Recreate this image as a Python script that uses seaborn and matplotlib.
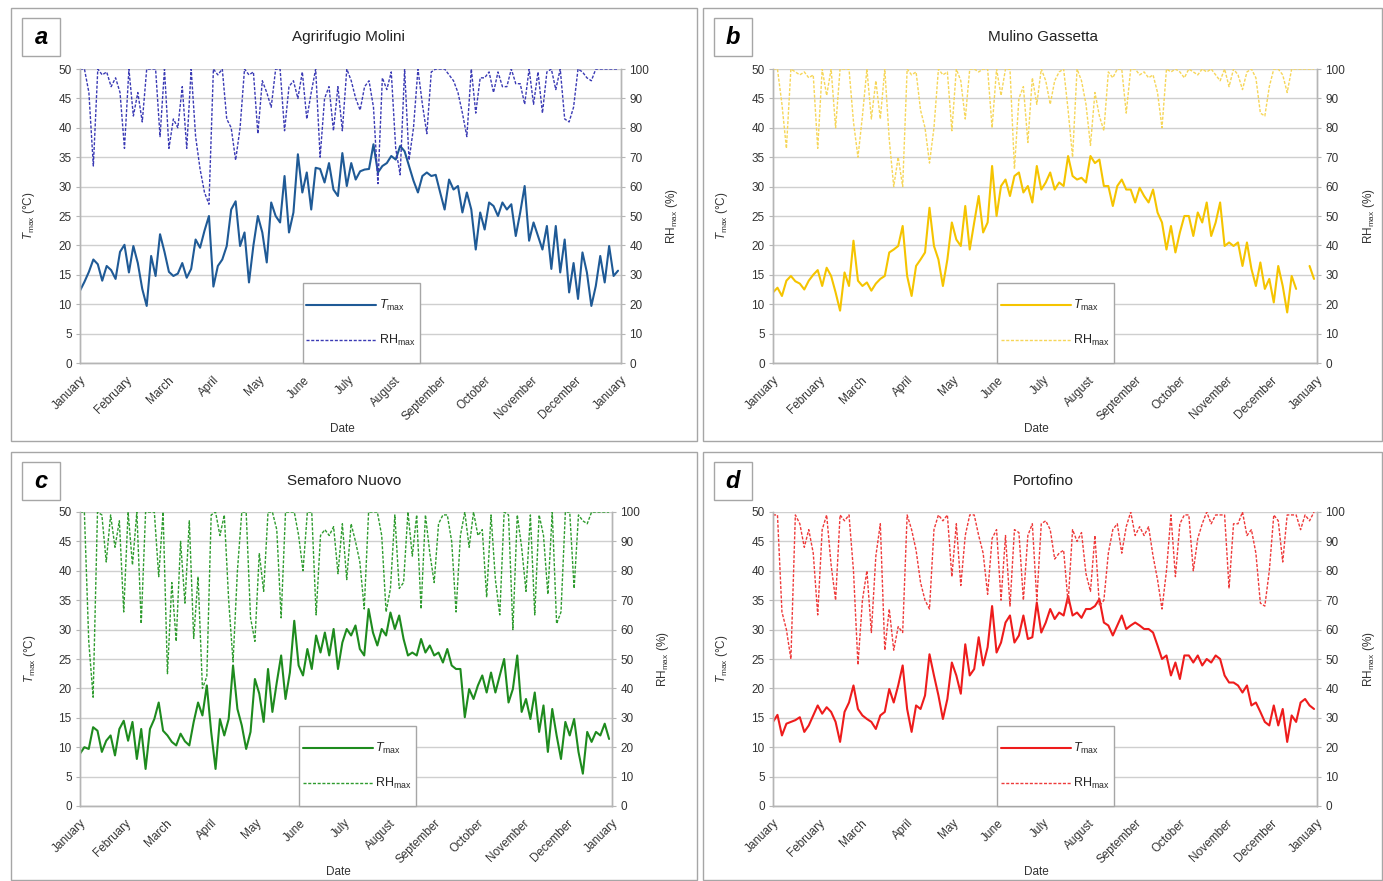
import numpy as np
import pandas as pd
import matplotlib
matplotlib.use("Agg")
import matplotlib.pyplot as plt
import matplotlib.dates as mdates
from matplotlib.lines import Line2D
from matplotlib.patches import Rectangle
import seaborn as sns

sns.set_theme(style="white")
plt.rcParams["font.family"] = ["Liberation Sans", "DejaVu Sans"]
plt.rcParams["mathtext.fontset"] = "custom"
plt.rcParams["mathtext.rm"] = "Liberation Sans"
plt.rcParams["mathtext.it"] = "Liberation Sans:italic"

START = "2013-01-01"
STEP = "3D"  # one value every third day

LETTERS = ["a", "b", "c", "d"]
STATIONS = ["Agririfugio Molini", "Mulino Gassetta", "Semaforo Nuovo", "Portofino"]
MONTH_TICKS = pd.date_range("2013-01-01", "2014-01-01", freq="MS")

tmax_molini = [
    12.3, 13.8, 15.5, 17.6, 16.8, 14.0, 16.5, 15.8, 14.3, 18.9,
    20.1, 15.4, 19.9, 17.0, 12.6, 9.7, 18.2, 14.8, 21.9, 18.9,
    15.5, 14.8, 15.2, 17.0, 14.5, 16.0, 21.0, 19.6, 22.5, 25.0,
    13.0, 16.5, 17.6, 19.9, 26.1, 27.5, 19.9, 22.2, 13.7, 20.0,
    25.0, 22.2, 17.1, 27.3, 25.0, 23.9, 31.8, 22.2, 25.6, 35.5,
    29.0, 32.4, 26.1, 33.2, 33.0, 30.7, 34.0, 29.5, 28.4, 35.7,
    30.1, 34.0, 31.2, 32.6, 32.9, 33.0, 37.2, 32.4, 33.5, 34.0,
    35.2, 34.6, 36.9, 36.0, 33.5, 31.0, 29.0, 31.8, 32.4, 31.8,
    32.0, 29.0, 26.1, 31.2, 29.5, 30.1, 25.6, 29.0, 26.1, 19.3,
    25.6, 22.7, 27.3, 26.7, 25.0, 27.3, 26.1, 27.0, 21.6, 25.6,
    30.1, 20.8, 23.9, 21.6, 19.3, 23.3, 16.0, 23.3, 15.4, 21.0,
    12.0, 17.0, 10.9, 18.8, 15.4, 9.7, 13.1, 18.2, 13.7, 19.9,
    14.8, 15.7,
]
rh_molini = [
    100, 100, 92, 67, 100, 98, 99, 94, 97, 92,
    73, 100, 84, 92, 82, 100, 100, 100, 77, 100,
    73, 83, 80, 94, 73, 100, 77, 66, 58, 54,
    100, 98, 100, 83, 80, 69, 80, 100, 98, 99,
    78, 96, 92, 87, 100, 100, 79, 94, 96, 90,
    99, 83, 92, 100, 70, 90, 94, 79, 94, 79,
    100, 96, 90, 86, 94, 96, 87, 61, 97, 93,
    99, 73, 64, 100, 69, 80, 100, 88, 78, 99,
    100, 100, 100, 98, 96, 92, 85, 77, 100, 85,
    97, 97, 99, 92, 99, 94, 94, 100, 95, 95,
    88, 100, 88, 99, 85, 99, 100, 93, 100, 83,
    82, 87, 100, 99, 97, 96, 100, 100, 100, 100,
    100, 100,
]

tmax_gassetta = [
    12.0, 12.8, 11.4, 14.0, 14.8, 13.9, 13.5, 12.5, 14.0, 15.0,
    15.8, 13.1, 16.2, 14.8, 12.0, 8.9, 15.4, 13.1, 20.8, 14.0,
    13.1, 13.7, 12.3, 13.5, 14.3, 14.8, 18.8, 19.3, 19.9, 23.3,
    14.8, 11.4, 16.5, 17.6, 18.8, 26.4, 19.9, 17.6, 13.1, 17.6,
    23.9, 21.0, 19.9, 26.7, 19.3, 23.9, 28.4, 22.2, 23.9, 33.5,
    25.0, 30.1, 31.2, 28.4, 31.8, 32.4, 29.0, 30.1, 27.3, 33.5,
    29.5, 30.7, 32.4, 29.5, 30.7, 30.1, 35.2, 31.8, 31.2, 31.5,
    30.7, 35.2, 34.0, 34.6, 30.1, 30.1, 26.7, 30.1, 31.2, 29.5,
    29.5, 27.3, 29.8, 28.4, 27.3, 29.5, 25.6, 23.9, 19.3, 23.3,
    18.8, 22.2, 25.0, 25.0, 21.6, 25.6, 23.9, 27.3, 21.6, 23.9,
    27.3, 19.9, 20.5, 19.9, 20.5, 16.5, 20.5, 16.0, 13.1, 17.1,
    12.6, 14.3, 10.3, 16.5, 13.1, 8.6, 14.8, 12.6, np.nan, np.nan,
    16.5, 14.3,
]
rh_gassetta = [
    100, 100, 88, 73, 100, 99, 98, 99, 97, 98,
    73, 100, 91, 100, 80, 100, 100, 100, 82, 70,
    84, 100, 83, 96, 83, 100, 76, 60, 70, 60,
    100, 98, 99, 86, 80, 68, 80, 100, 98, 99,
    79, 100, 96, 83, 100, 100, 99, 100, 100, 80,
    100, 91, 100, 100, 66, 90, 94, 75, 97, 88,
    100, 96, 88, 96, 99, 100, 86, 70, 100, 96,
    88, 74, 92, 84, 79, 99, 97, 100, 100, 85,
    100, 100, 98, 99, 97, 98, 92, 80, 100, 99,
    100, 99, 97, 100, 99, 98, 100, 99, 100, 98,
    96, 100, 94, 100, 98, 93, 99, 100, 97, 85,
    84, 94, 100, 100, 98, 92, 100, 100, 100, 100,
    100, 100,
]

tmax_semaforo = [
    8.9, 10.0, 9.7, 13.4, 12.8, 9.2, 11.1, 12.0, 8.6, 13.1,
    14.5, 11.1, 14.3, 8.0, 13.1, 6.3, 13.1, 14.8, 17.6, 12.8,
    12.0, 10.9, 10.3, 12.3, 11.0, 10.3, 14.3, 17.6, 15.4, 20.5,
    12.6, 6.3, 14.8, 12.0, 14.8, 23.9, 16.5, 13.7, 9.7, 12.6,
    21.6, 19.1, 14.3, 23.3, 16.0, 21.0, 25.6, 18.2, 22.7, 31.5,
    23.9, 22.2, 26.7, 23.3, 29.0, 26.1, 29.5, 25.6, 30.1, 23.3,
    27.8, 30.1, 29.0, 30.7, 26.7, 25.6, 33.5, 29.5, 27.3, 30.1,
    29.0, 32.9, 30.1, 32.4, 28.4, 25.6, 26.1, 25.6, 28.4, 26.1,
    27.3, 25.6, 26.1, 24.4, 26.7, 23.9, 23.3, 23.3, 15.1, 19.9,
    18.2, 20.5, 22.2, 19.3, 22.7, 19.3, 22.2, 25.0, 17.6, 19.9,
    25.6, 16.0, 18.2, 14.8, 19.3, 12.6, 17.1, 9.2, 16.5, 12.0,
    8.0, 14.3, 12.0, 14.8, 9.2, 5.5, 12.6, 10.9, 12.6, 12.0,
    14.0, 11.4,
]
rh_semaforo = [
    100, 100, 56, 37, 100, 99, 83, 99, 88, 97,
    66, 100, 82, 100, 62, 100, 100, 100, 78, 100,
    45, 76, 56, 90, 69, 97, 57, 78, 40, 44,
    99, 100, 92, 99, 70, 49, 80, 100, 100, 64,
    56, 86, 73, 100, 100, 94, 64, 100, 100, 100,
    92, 80, 100, 100, 65, 92, 94, 92, 95, 79,
    96, 77, 96, 90, 83, 67, 100, 100, 100, 92,
    66, 74, 99, 74, 76, 100, 85, 99, 67, 99,
    86, 76, 96, 99, 99, 90, 66, 92, 100, 88,
    100, 92, 94, 71, 99, 77, 65, 100, 99, 60,
    99, 88, 73, 99, 65, 99, 92, 72, 100, 62,
    66, 100, 100, 74, 99, 97, 96, 100, 100, 100,
    100, 100,
]

tmax_portofino = [
    14.3, 15.5, 12.0, 14.0, 14.3, 14.6, 15.1, 12.6, 13.7, 15.4,
    17.1, 15.7, 16.8, 16.0, 14.3, 10.9, 16.0, 17.6, 20.5, 16.5,
    15.4, 14.8, 14.3, 13.1, 15.4, 16.0, 19.9, 17.6, 20.5, 23.9,
    16.5, 12.6, 17.1, 16.5, 18.8, 25.8, 22.2, 18.8, 14.8, 18.2,
    24.4, 22.2, 19.1, 27.5, 22.2, 23.3, 28.7, 23.9, 27.0, 34.0,
    26.1, 27.8, 31.2, 32.4, 27.8, 29.0, 32.4, 28.4, 28.7, 34.6,
    29.5, 31.2, 33.5, 31.8, 32.9, 32.4, 35.7, 32.4, 32.9, 32.0,
    33.5, 33.5, 34.0, 35.2, 31.2, 30.7, 29.0, 30.7, 32.4, 30.1,
    30.7, 31.2, 30.7, 30.1, 30.1, 29.5, 27.3, 25.0, 25.6, 22.2,
    24.4, 21.6, 25.6, 25.6, 24.4, 25.6, 23.9, 25.0, 24.4, 25.6,
    25.0, 22.2, 21.0, 21.0, 20.5, 19.3, 20.5, 17.1, 17.6, 16.0,
    14.3, 13.7, 17.1, 13.7, 16.5, 10.9, 15.4, 14.3, 17.6, 18.2,
    17.1, 16.5,
]
rh_portofino = [
    99, 99, 66, 60, 50, 99, 96, 88, 94, 86,
    65, 94, 99, 82, 70, 99, 97, 99, 80, 48,
    70, 80, 59, 85, 96, 53, 67, 53, 61, 59,
    99, 94, 87, 76, 70, 67, 94, 99, 97, 99,
    78, 96, 75, 92, 99, 99, 92, 86, 72, 91,
    94, 70, 92, 68, 94, 93, 70, 92, 96, 70,
    96, 97, 94, 84, 86, 87, 69, 94, 90, 93,
    79, 73, 92, 68, 70, 86, 94, 96, 86, 95,
    100, 92, 95, 92, 95, 85, 77, 67, 80, 99,
    78, 96, 99, 99, 80, 91, 96, 100, 96, 99,
    99, 99, 74, 96, 96, 100, 92, 94, 86, 69,
    68, 80, 99, 97, 83, 99, 99, 99, 94, 99,
    97, 100,
]

TMAX = [tmax_molini, tmax_gassetta, tmax_semaforo, tmax_portofino]
RH = [rh_molini, rh_gassetta, rh_semaforo, rh_portofino]
T_COLORS = ["#1f5a96", "#f5c400", "#1e8b1e", "#ee1c1c"]
RH_COLORS = ["#3a3ab4", "#f6d659", "#2e9b2e", "#ee3a3a"]

W, H = 1383, 881
# panel frames and plot areas in pixels: (left, top, right, bottom)
FRAMES = [(11, 8, 697, 441), (703, 8, 1382, 441),
          (11, 452, 697, 880), (703, 452, 1382, 880)]
AREAS = [(80, 69, 621, 363), (773, 69, 1317, 363),
         (80, 512, 612, 806), (773, 512, 1317, 806)]

GRID = "#cfcfcf"
SPINE = "#b5b5b5"
TXT = "#333333"
DASH = (0, (2.2, 1.2))


def fx(px):
    return px / W


def fy(py):
    return 1 - py / H


def draw_series(ax, values, color, lw, ls):
    s = pd.Series(values, index=pd.date_range(START, periods=len(values), freq=STEP))
    ok = s.notna()
    seg = (~ok).cumsum()[ok]
    for _, part in s[ok].groupby(seg):
        sns.lineplot(x=part.index, y=part.values, ax=ax, color=color,
                     linewidth=lw, linestyle=ls, legend=False)


fig = plt.figure(figsize=(W / 100, H / 100), dpi=100)

for i in range(4):
    fl, ft, fr, fb = FRAMES[i]
    fig.add_artist(Rectangle((fx(fl), fy(fb)), fx(fr - fl), (fb - ft) / H,
                             transform=fig.transFigure, fill=False,
                             edgecolor="#a6a6a6", linewidth=1))
    # letter box
    fig.add_artist(Rectangle((fx(fl + 11), fy(ft + 48)), fx(38), 38 / H,
                             transform=fig.transFigure, facecolor="white",
                             edgecolor="#a6a6a6", linewidth=1))
    fig.text(fx(fl + 30), fy(ft + 29), LETTERS[i], ha="center", va="center",
             fontsize=17, fontweight="bold", fontstyle="italic", color="black")

    l, t, r, b = AREAS[i]
    ax = fig.add_axes([fx(l), fy(b), fx(r - l), (b - t) / H])
    ax2 = ax.twinx()

    draw_series(ax, TMAX[i], T_COLORS[i], 1.5, "-")
    draw_series(ax2, RH[i], RH_COLORS[i], 1.0, DASH)

    ax.set_xlim(pd.Timestamp("2013-01-01"), pd.Timestamp("2014-01-01"))
    ax.set_ylim(0, 50)
    ax2.set_ylim(0, 100)
    ax.set_yticks(np.arange(0, 51, 5))
    ax2.set_yticks(np.arange(0, 101, 10))
    ax.set_xticks(MONTH_TICKS)
    ax.xaxis.set_major_formatter(mdates.DateFormatter("%B"))
    plt.setp(ax.get_xticklabels(), rotation=45, ha="right",
             rotation_mode="anchor")

    ax.yaxis.grid(True, color=GRID, linewidth=1)
    ax.xaxis.grid(False)
    ax2.grid(False)
    ax.set_axisbelow(True)
    for a in (ax, ax2):
        a.spines["top"].set_visible(False)
        for side in ("left", "right", "bottom"):
            a.spines[side].set_color(SPINE)
            a.spines[side].set_linewidth(1)
        a.tick_params(labelsize=8.5, colors=TXT, length=3, width=0.8,
                      color=SPINE, pad=3)
    ax.tick_params(axis="x", length=4, pad=4)

    ax.set_xlabel("Date", fontsize=8.5, color=TXT)
    ax.xaxis.set_label_coords(0.485, -0.205)
    ax.set_ylabel(r"$\mathit{T}_{\mathrm{max}}$ (°C)", fontsize=8.5, color=TXT)
    ax.yaxis.set_label_coords(-0.079, 0.5)
    ax2.set_ylabel(r"RH$_{\mathrm{max}}$ (%)", fontsize=8.5, color=TXT,
                   rotation=90)
    ax2.yaxis.set_label_coords(1.08, 0.5)

    fig.text(fx((l + r) / 2 - 2), fy(ft + 29), STATIONS[i], ha="center",
             va="center", fontsize=11, color="#222222")

    # legend box
    x0 = (303 - 80) / 541
    box = Rectangle((x0, 0), 117 / (r - l), 80 / (b - t), transform=ax2.transAxes,
                    facecolor="white", edgecolor="#a6a6a6", linewidth=1,
                    zorder=4, clip_on=False)
    ax2.add_patch(box)
    handles = [Line2D([], [], color=T_COLORS[i], linewidth=1.5),
               Line2D([], [], color=RH_COLORS[i], linewidth=1.0, linestyle=DASH)]
    ax2.legend(handles, [r"$\mathit{T}_{\mathrm{max}}$", r"RH$_{\mathrm{max}}$"],
               loc="center", bbox_to_anchor=(x0 + 58 / (r - l), 40 / (b - t)),
               frameon=False, fontsize=9, handlelength=5.6,
               handletextpad=0.2, labelspacing=1.6, borderpad=0.2)

fig.savefig("out.png", dpi=100)
